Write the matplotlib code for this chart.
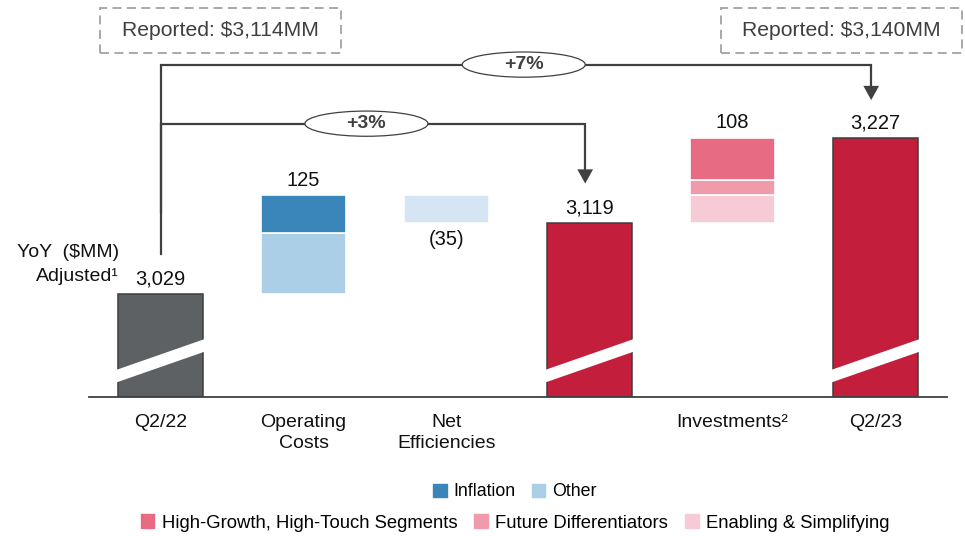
import matplotlib
matplotlib.use("Agg")
import matplotlib.pyplot as plt
from matplotlib.patches import Rectangle, Ellipse, Polygon, Patch

plt.rcParams['font.family'] = ['Liberation Sans', 'DejaVu Sans']

# data
categories = ["Q2/22", "Operating\nCosts", "Net\nEfficiencies", "", "Investments\u00b2", "Q2/23"]
q2_22 = 3029
op_inflation = 48
op_other = 77
net_eff = -35
q2_22_mid = 3119
inv_high_growth = 53
inv_future = 19
inv_enabling = 36
q2_23 = 3227
reported = ["Reported: $3,114MM", "Reported: $3,140MM"]
growth = ["+3%", "+7%"]

# colours
c_gray = "#5e6164"
c_red = "#c41e3d"
c_infl = "#3a85b9"
c_other = "#abcfe6"
c_neteff = "#d5e5f3"
c_hg = "#e76b83"
c_fd = "#f09bab"
c_es = "#f7cbd5"
c_edge = "#3d3d3d"
c_line = "#404040"

floor = 2898
top = 3402
w = 0.6

fig = plt.figure(figsize=(9.65, 5.36), dpi=100)
ax = fig.add_axes([89 / 965, 139 / 536, 858 / 965, 397 / 536])
ax.set_xlim(-0.5, 5.5)
ax.set_ylim(floor, top)
for s in ["top", "right", "left"]:
    ax.spines[s].set_visible(False)
ax.spines["bottom"].set_color(c_line)
ax.spines["bottom"].set_linewidth(1.3)
ax.set_yticks([])
ax.set_xticks(range(len(categories)))
ax.set_xticklabels(categories, fontsize=14, color="#111111", linespacing=1.35)
ax.tick_params(axis="x", length=0, pad=12)

# total bars
totals_x = [0, 3, 5]
totals = [q2_22, q2_22_mid, q2_23]
totals_c = [c_gray, c_red, c_red]
ax.bar(totals_x, [t - floor for t in totals], bottom=floor, width=w,
       color=totals_c, edgecolor=c_edge, linewidth=1.1, zorder=2)

# operating costs
base = q2_22
ax.bar(1, op_other, bottom=base, width=w * 0.98, color=c_other, edgecolor="white", linewidth=1.2, zorder=2)
ax.bar(1, op_inflation, bottom=base + op_other, width=w * 0.98, color=c_infl, edgecolor="white", linewidth=1.2, zorder=2)
op_top = base + op_other + op_inflation

# net efficiencies
ax.bar(2, net_eff, bottom=op_top, width=w * 0.98, color=c_neteff, edgecolor="white", linewidth=1.2, zorder=2)

# investments
base = q2_22_mid
ax.bar(4, inv_enabling, bottom=base, width=w * 0.98, color=c_es, edgecolor="white", linewidth=1.2, zorder=2)
ax.bar(4, inv_future, bottom=base + inv_enabling, width=w * 0.98, color=c_fd, edgecolor="white", linewidth=1.2, zorder=2)
ax.bar(4, inv_high_growth, bottom=base + inv_enabling + inv_future, width=w * 0.98, color=c_hg,
       edgecolor="white", linewidth=1.2, zorder=2)
inv_top = base + inv_enabling + inv_future + inv_high_growth

# break strips on total bars
for x in totals_x:
    x0, x1 = x - w / 2 - 0.02, x + w / 2 + 0.02
    slope = (57 - 19) / w
    lo0 = floor + 19 - slope * 0.02
    lo1 = floor + 57 + slope * 0.02
    th = 16
    ax.add_patch(Polygon([[x0, lo0], [x1, lo1], [x1, lo1 + th], [x0, lo0 + th]],
                         closed=True, facecolor="white", edgecolor="none", zorder=3))

# value labels
lbl = dict(ha="center", fontsize=14.5, color="#111111", textcoords="offset points")
ax.annotate(f"{q2_22:,}", (0, q2_22), xytext=(0, 4), va="bottom", **lbl)
ax.annotate(f"{op_inflation + op_other:,}", (1, op_top), xytext=(0, 4), va="bottom", **lbl)
ax.annotate(f"({-net_eff})", (2, op_top + net_eff), xytext=(0, -5), va="top", **lbl)
ax.annotate(f"{q2_22_mid:,}", (3, q2_22_mid), xytext=(0, 4), va="bottom", **lbl)
ax.annotate(f"{inv_high_growth + inv_future + inv_enabling:,}", (4, inv_top), xytext=(0, 4), va="bottom", **lbl)
ax.annotate(f"{q2_23:,}", (5, q2_23), xytext=(0, 4), va="bottom", **lbl)

ax.text(-0.29, q2_22 + 52, "YoY  ($MM)", ha="right", va="center", fontsize=14, color="#111111")
ax.text(-0.29, q2_22 + 22, "Adjusted\u00b9", ha="right", va="center", fontsize=14, color="#111111")

# growth brackets
def bracket(x_from, x_to, y_level, y_start, tip, text, ex):
    ax.plot([x_from, x_from, x_to - 0.03, x_to - 0.03], [y_start, y_level, y_level, tip + 18],
            color=c_line, lw=1.6, solid_joinstyle="miter", clip_on=False, zorder=4)
    ax.add_patch(Polygon([[x_to - 0.03 - 0.055, tip + 18], [x_to - 0.03 + 0.055, tip + 18], [x_to - 0.03, tip]],
                         closed=True, facecolor=c_line, edgecolor="none", clip_on=False, zorder=4))
    ax.add_patch(Ellipse((ex, y_level), 0.86, 32, facecolor="white", edgecolor=c_line, lw=0.9,
                         clip_on=False, zorder=5))
    ax.text(ex, y_level, text, ha="center", va="center", fontsize=14, fontweight="bold",
            color=c_line, zorder=6)

bracket(0, 3, 3245, q2_22 + 104, q2_22_mid + 50, growth[0], 1.44)
bracket(0, 5, 3320, q2_22 + 51, q2_23 + 48, growth[1], 2.54)

# reported boxes
for (x0, x1), t in zip([(100, 341), (721, 962)], reported):
    fig.add_artist(Rectangle((x0 / 965, 1 - 53 / 536), (x1 - x0) / 965, 45 / 536,
                             transform=fig.transFigure, fill=False, edgecolor="#a3a3a3",
                             lw=1.3, linestyle=(0, (5, 3))))
    fig.text((x0 + x1) / 2 / 965, 1 - 31 / 536, t, ha="center", va="center",
             fontsize=15.2, color="#3f3f3f")

# legends
leg_kw = dict(loc="center", frameon=False, handlelength=0.75, handleheight=0.75,
              handletextpad=0.4, columnspacing=0.9, borderpad=0, borderaxespad=0)
fig.legend([Patch(color=c_infl), Patch(color=c_other)], ["Inflation", "Other"],
           bbox_to_anchor=(515 / 965, 1 - 492 / 536), ncol=2, fontsize=12.8, **leg_kw)
fig.legend([Patch(color=c_hg), Patch(color=c_fd), Patch(color=c_es)],
           ["High-Growth, High-Touch Segments", "Future Differentiators", "Enabling & Simplifying"],
           bbox_to_anchor=(515 / 965, 1 - 523 / 536), ncol=3, fontsize=13.3, **leg_kw)

fig.savefig("out.png", dpi=100)
